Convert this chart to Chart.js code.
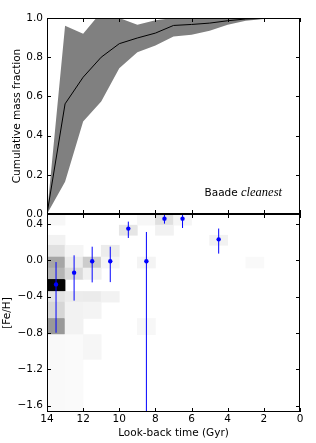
<!DOCTYPE html>
<html>
<head>
<meta charset="utf-8">
<script src="https://cdn.jsdelivr.net/npm/chart.js@4.4.1/dist/chart.umd.min.js"></script>
<style>
    body { margin: 0; background: #fff; }
    #wrap { position: relative; width: 316px; height: 443px; }
    #wrap canvas { position: absolute; left: 0; top: 0; }
</style>
</head>
<body>
<div id="wrap">
    <canvas id="chartMass" width="316" height="443"></canvas>
    <canvas id="chartFeh" width="316" height="443"></canvas>
</div>
<script>
//==========Data===========
// top panel: cumulative mass fraction vs look-back time
const timeGrid = [14, 13, 12, 11, 10, 9, 8, 7, 6, 5, 4, 3, 2, 1, 0];
const cumMass = [0, 0.562, 0.698, 0.80, 0.869, 0.898, 0.923, 0.962, 0.967, 0.974, 0.986, 0.995, 0.998, 1.0, 1.0];
const cumUpper = [0, 0.96, 0.92, 1.03, 1.0, 0.966, 0.988, 1.0, 1.0, 1.0, 1.0, 1.0, 1.0, 1.0, 1.0];
const cumLower = [0, 0.165, 0.472, 0.574, 0.744, 0.825, 0.86, 0.906, 0.915, 0.935, 0.966, 0.986, 0.995, 0.998, 1.0];

// bottom panel: mean [Fe/H] per age bin with error bars
const fitTime = [13.5, 12.5, 11.5, 10.5, 9.5, 8.5, 7.5, 6.5, 4.5];
const fitFeh = [-0.265, -0.136, -0.01, -0.01, 0.349, -0.01, 0.459, 0.459, 0.231];
const fitFehLo = [-0.797, -0.444, -0.243, -0.24, 0.246, -1.9, 0.404, 0.356, 0.074];
const fitFehHi = [-0.019, 0.055, 0.15, 0.15, 0.426, 0.312, 0.56, 0.56, 0.35];

// bottom panel: 2D histogram cells (age bin centre, [Fe/H] range, weight)
const cellTime = [
    13.5, 13.5, 13.5, 13.5, 13.5, 13.5, 13.5, 13.5, 13.5, 13.5,
    12.5, 12.5, 12.5, 12.5, 12.5, 12.5, 12.5,
    11.5, 11.5, 11.5, 11.5, 11.5,
    10.5, 10.5, 10.5,
    9.5,
    8.5, 8.5, 8.5,
    7.5, 7.5,
    6.5,
    4.5,
    2.5
];
const cellFehLo = [
    0.387, 0.166, 0.036, -0.085, -0.21, -0.343, -0.46, -0.64, -0.818, -1.67,
    0.036, -0.085, -0.21, -0.46, -0.64, -0.818, -1.67,
    -0.085, -0.21, -0.46, -0.64, -1.09,
    0.036, -0.085, -0.46,
    0.276,
    0.387, -0.085, -0.818,
    0.387, 0.276,
    0.387,
    0.166,
    -0.085
];
const cellFehHi = [
    0.51, 0.276, 0.166, 0.036, -0.085, -0.21, -0.343, -0.46, -0.64, -0.818,
    0.166, 0.036, -0.085, -0.343, -0.46, -0.64, -0.818,
    0.036, -0.085, -0.343, -0.46, -0.818,
    0.166, 0.036, -0.343,
    0.387,
    0.51, 0.036, -0.64,
    0.51, 0.387,
    0.51,
    0.276,
    0.036
];
const cellWeight = [
    0.03, 0.05, 0.12, 0.35, 0.29, 0.98, 0.11, 0.16, 0.40, 0.025,
    0.04, 0.08, 0.145, 0.075, 0.05, 0.05, 0.02,
    0.20, 0.055, 0.08, 0.045, 0.035,
    0.075, 0.04, 0.05,
    0.10,
    0.03, 0.045, 0.03,
    0.12, 0.05,
    0.04,
    0.05,
    0.025
];

// tick labels
const timeTicks = [14, 12, 10, 8, 6, 4, 2, 0];
const massTicks = [0, 0.2, 0.4, 0.6, 0.8, 1.0];
const fehTicks = [-1.6, -1.2, -0.8, -0.4, 0.0, 0.4];

//==========Helpers===========
Chart.defaults.font.family = '"DejaVu Sans", sans-serif';
Chart.defaults.font.size = 10.5;
Chart.defaults.color = '#000';
Chart.defaults.animation = false;
Chart.defaults.events = [];
Chart.defaults.plugins.legend.display = false;
Chart.defaults.plugins.tooltip.enabled = false;

function fmt1(v) {
    return Number(v).toFixed(1).replace('-', '\u2212');
}
function setTicks(list) {
    return function (scale) {
        scale.ticks = list.map(v => ({ value: v }));
    };
}
function grayOf(w) {
    let g = Math.round(255 * (1 - w));
    return 'rgb(' + g + ',' + g + ',' + g + ')';
}

// matplotlib style frame with inward ticks on all four sides
const frameTicks = {
    id: 'frameTicks',
    afterDraw(chart) {
        const { ctx, chartArea: a, scales } = chart;
        const len = 4;
        ctx.save();
        ctx.strokeStyle = '#000';
        ctx.lineWidth = 1;
        ctx.beginPath();
        scales.x.ticks.forEach(t => {
            let px = Math.round(scales.x.getPixelForValue(t.value)) + 0.5;
            ctx.moveTo(px, a.top); ctx.lineTo(px, a.top + len);
            ctx.moveTo(px, a.bottom); ctx.lineTo(px, a.bottom - len);
        });
        scales.y.ticks.forEach(t => {
            let py = Math.round(scales.y.getPixelForValue(t.value)) + 0.5;
            ctx.moveTo(a.left, py); ctx.lineTo(a.left + len, py);
            ctx.moveTo(a.right, py); ctx.lineTo(a.right - len, py);
        });
        ctx.stroke();
        ctx.strokeRect(a.left + 0.5, a.top + 0.5, a.right - a.left - 1, a.bottom - a.top - 1);
        ctx.restore();
    }
};

const panelLabel = {
    id: 'panelLabel',
    afterDraw(chart) {
        const { ctx, chartArea: a } = chart;
        ctx.save();
        ctx.fillStyle = '#000';
        ctx.textBaseline = 'alphabetic';
        ctx.textAlign = 'right';
        ctx.font = 'italic 12.5px "Liberation Serif", serif';
        let x = a.right - 18, y = a.bottom - 18;
        ctx.fillText('cleanest', x, y);
        let w = ctx.measureText('cleanest').width;
        ctx.font = '10.5px "DejaVu Sans", sans-serif';
        ctx.fillText('Baade ', x - w, y);
        ctx.restore();
    }
};

//==========Top panel===========
new Chart(document.getElementById('chartMass'), {
    type: 'line',
    data: {
        datasets: [{
            data: timeGrid.map((t, i) => ({ x: t, y: cumUpper[i] })),
            borderWidth: 0,
            pointRadius: 0,
            fill: false,
            order: 3
        }, {
            data: timeGrid.map((t, i) => ({ x: t, y: cumLower[i] })),
            borderWidth: 0,
            pointRadius: 0,
            backgroundColor: '#808080',
            fill: '-1',
            order: 2
        }, {
            data: timeGrid.map((t, i) => ({ x: t, y: cumMass[i] })),
            borderColor: '#000',
            borderWidth: 1,
            pointRadius: 0,
            fill: false,
            order: 1
        }]
    },
    options: {
        responsive: false,
        layout: { padding: { left: 0, right: 16, top: 18, bottom: 229 } },
        scales: {
            x: {
                type: 'linear', min: 0, max: 14, reverse: true,
                afterBuildTicks: setTicks(timeTicks),
                afterFit: s => { s.height = 0; },
                ticks: { display: false },
                grid: { display: false, drawTicks: false },
                border: { display: false }
            },
            y: {
                min: 0, max: 1,
                afterBuildTicks: setTicks(massTicks),
                afterFit: s => { s.width = 47; },
                ticks: { padding: 4, callback: fmt1 },
                grid: { display: false, drawTicks: false },
                border: { display: false },
                title: { display: true, text: 'Cumulative mass fraction', padding: { top: 11, bottom: 0 } }
            }
        }
    },
    plugins: [frameTicks, panelLabel]
});

//==========Bottom panel===========
const errorBarSets = fitTime.map((t, i) => ({
    type: 'line',
    data: [{ x: t, y: fitFehLo[i] }, { x: t, y: fitFehHi[i] }],
    borderColor: '#0000ff',
    borderWidth: 1,
    pointRadius: 0,
    showLine: true,
    order: 2
}));

new Chart(document.getElementById('chartFeh'), {
    type: 'scatter',
    data: {
        datasets: [{
            data: fitTime.map((t, i) => ({ x: t, y: fitFeh[i] })),
            backgroundColor: '#0000ff',
            borderWidth: 0,
            pointRadius: 2.2,
            order: 1
        }].concat(errorBarSets).concat([{
            type: 'bar',
            data: cellTime.map((t, i) => ({ x: t, y: [cellFehLo[i], cellFehHi[i]] })),
            backgroundColor: cellWeight.map(grayOf),
            borderWidth: 0,
            borderSkipped: false,
            grouped: false,
            barPercentage: 1,
            categoryPercentage: 1,
            order: 3
        }])
    },
    options: {
        responsive: false,
        layout: { padding: { left: 0, right: 16, top: 214, bottom: 0 } },
        scales: {
            x: {
                type: 'linear', min: 0, max: 14, reverse: true, offset: false,
                afterBuildTicks: setTicks(timeTicks),
                afterFit: s => { s.height = 31; },
                ticks: { padding: 1, maxRotation: 0, callback: v => String(v) },
                grid: { display: false, drawTicks: false },
                border: { display: false },
                title: { display: true, text: 'Look-back time (Gyr)', padding: { top: 0, bottom: 3 } }
            },
            y: {
                min: -1.67, max: 0.51,
                afterBuildTicks: setTicks(fehTicks),
                afterFit: s => { s.width = 47; },
                ticks: { padding: 4, callback: fmt1 },
                grid: { display: false, drawTicks: false },
                border: { display: false },
                title: { display: true, text: '[Fe/H]', padding: { top: 1, bottom: 0 } }
            }
        }
    },
    plugins: [frameTicks]
});
</script>
</body>
</html>
